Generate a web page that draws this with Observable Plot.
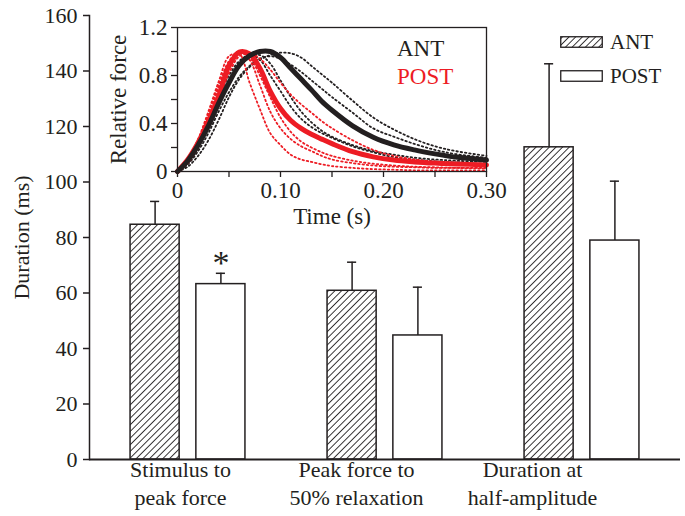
<!DOCTYPE html>
<html>
<head>
<meta charset="utf-8">
<script src="https://cdn.jsdelivr.net/npm/d3@7"></script>
<script src="https://cdn.jsdelivr.net/npm/@observablehq/plot@0.6"></script>
<style>
  html, body { margin: 0; padding: 0; background: #ffffff; }
  #wrap { position: relative; width: 685px; height: 516px; overflow: hidden; font-family: "Liberation Serif", "Times New Roman", serif; color: #231f20; }
  #wrap > div { position: absolute; }
  .leg { display: flex; align-items: center; font-size: 21px; line-height: 1; height: 24px; }
  .leg svg { margin-right: 7px; }
</style>
</head>
<body>
<div id="wrap">
  <div id="main" style="left:0;top:0;"></div>
  <div id="cats" style="left:0;top:457px;"></div>
  <div id="inset" style="left:100px;top:10px;"></div>
  <div id="legend" style="left:560px;top:30px;"></div>
  <div id="insetLegend" style="left:397px;top:35px;font-size:23px;line-height:28px;"></div>
</div>
<script>
// ---------------- main bar chart data ----------------
const groups = ["Stimulus to\npeak force", "Peak force to\n50% relaxation", "Duration at\nhalf-amplitude"];
const conditions = ["ANT", "POST"];
const antMean = [84.6, 60.8, 112.5];
const antSD = [8.4, 10.3, 30.1];
const postMean = [63.2, 44.7, 78.9];
const postSD = [3.9, 17.4, 21.4];
const postSignificant = [true, false, false];
const yTicks = [0, 20, 40, 60, 80, 100, 120, 140, 160];

// ---------------- inset data ----------------
const timeS = [0, 0.01, 0.02, 0.03, 0.04, 0.05, 0.06, 0.07, 0.08, 0.09, 0.10, 0.11, 0.12, 0.13, 0.14, 0.15, 0.17, 0.19, 0.21, 0.23, 0.25, 0.27, 0.30];
const antMeanForce  = [0.0, 0.09, 0.22, 0.38, 0.57, 0.74, 0.885, 0.965, 1.0, 1.0, 0.95, 0.86, 0.77, 0.68, 0.585, 0.51, 0.38, 0.285, 0.222, 0.18, 0.147, 0.12, 0.095];
const postMeanForce = [0.0, 0.10, 0.24, 0.42, 0.63, 0.88, 0.995, 0.98, 0.86, 0.67, 0.525, 0.425, 0.36, 0.31, 0.27, 0.232, 0.165, 0.122, 0.095, 0.08, 0.07, 0.063, 0.055];
const antTrial1 = [0, 0.04, 0.13, 0.26, 0.43, 0.62, 0.77, 0.87, 0.93, 0.97, 0.99, 0.985, 0.95, 0.88, 0.81, 0.74, 0.59, 0.45, 0.35, 0.27, 0.21, 0.17, 0.13];
const antTrial2 = [0, 0.06, 0.17, 0.32, 0.50, 0.66, 0.79, 0.88, 0.94, 0.96, 0.94, 0.89, 0.83, 0.76, 0.69, 0.62, 0.49, 0.36, 0.29, 0.23, 0.18, 0.145, 0.115];
const antTrial3 = [0, 0.08, 0.22, 0.42, 0.62, 0.80, 0.92, 0.97, 0.93, 0.80, 0.67, 0.54, 0.44, 0.37, 0.32, 0.28, 0.21, 0.16, 0.12, 0.10, 0.085, 0.075, 0.06];
const antTrial4 = [0, 0.07, 0.20, 0.37, 0.56, 0.73, 0.87, 0.95, 0.97, 0.90, 0.76, 0.62, 0.50, 0.41, 0.34, 0.29, 0.22, 0.17, 0.14, 0.115, 0.10, 0.09, 0.08];
const postTrial1 = [0, 0.10, 0.27, 0.50, 0.75, 0.96, 0.98, 0.74, 0.52, 0.32, 0.22, 0.14, 0.10, 0.08, 0.06, 0.045, 0.03, 0.02, 0.015, 0.01, 0.01, 0.01, 0.01];
const postTrial2 = [0, 0.09, 0.25, 0.46, 0.70, 0.90, 0.99, 0.95, 0.80, 0.62, 0.45, 0.33, 0.25, 0.20, 0.16, 0.13, 0.09, 0.065, 0.05, 0.04, 0.035, 0.03, 0.03];
const postTrial3 = [0, 0.07, 0.20, 0.38, 0.60, 0.82, 0.96, 0.99, 0.94, 0.85, 0.74, 0.64, 0.56, 0.49, 0.42, 0.36, 0.26, 0.18, 0.13, 0.10, 0.08, 0.07, 0.06];
const postTrial4 = [0, 0.10, 0.26, 0.48, 0.72, 0.92, 1.00, 0.93, 0.72, 0.50, 0.36, 0.27, 0.21, 0.17, 0.13, 0.10, 0.07, 0.05, 0.04, 0.035, 0.03, 0.03, 0.025];
const insetXTicks = [0, 0.05, 0.10, 0.15, 0.20, 0.25, 0.30];
const insetXLabels = [0, 0.10, 0.20, 0.30];
const insetYTicks = [0, 0.2, 0.4, 0.6, 0.8, 1.0, 1.2];
const insetYLabels = [0, 0.4, 0.8, 1.2];

const INK = "#231f20";
const RED = "#ed1c24";
const FONT = "'Liberation Serif', 'Times New Roman', serif";

// ---------------- build rows ----------------
const rows = [];
groups.forEach((g, i) => {
  rows.push({group: g, cond: "ANT", mean: antMean[i], top: antMean[i] + antSD[i], sig: false});
  rows.push({group: g, cond: "POST", mean: postMean[i], top: postMean[i] + postSD[i], sig: postSignificant[i]});
});
const antRows = rows.filter(d => d.cond === "ANT");
const postRows = rows.filter(d => d.cond === "POST");

const main = Plot.plot({
  width: 685,
  height: 516,
  marginLeft: 89,
  marginRight: 5,
  marginTop: 15,
  marginBottom: 57,
  style: {fontFamily: FONT, fontSize: "22px", color: INK, background: "transparent", overflow: "visible"},
  fx: {domain: groups, padding: 0, round: false, axis: null},
  x: {domain: conditions, paddingInner: 0.254, paddingOuter: 0.624, round: false, axis: null},
  y: {domain: [0, 160]},
  marks: [
    Plot.barY(antRows, {fx: "group", x: "cond", y: "mean", fill: "url(#hatch)", stroke: INK, strokeWidth: 1.5}),
    Plot.barY(postRows, {fx: "group", x: "cond", y: "mean", fill: "white", stroke: INK, strokeWidth: 1.5}),
    Plot.ruleX(rows, {fx: "group", x: "cond", y1: "mean", y2: "top", stroke: INK, strokeWidth: 1.5}),
    Plot.tickY(rows, {fx: "group", x: "cond", y: "top", stroke: INK, strokeWidth: 1.5, insetLeft: 20, insetRight: 20}),
    Plot.text(postRows.filter(d => d.sig), {fx: "group", x: "cond", y: "top", text: () => "*", fontSize: 34, dy: -10, lineAnchor: "middle", fill: INK}),
    Plot.ruleY([0], {stroke: INK, strokeWidth: 2}),
    Plot.frame({anchor: "left", facetAnchor: "left", stroke: INK, strokeWidth: 1.5}),
    Plot.axisY({ticks: yTicks, tickSize: 6, tickPadding: 6, tickFormat: d => String(d), stroke: INK, strokeWidth: 1.5,
      label: "Duration (ms)", labelAnchor: "center", labelOffset: 76, labelArrow: "none", fontSize: 22})
  ]
});

// hatch pattern
d3.select(main).insert("defs", ":first-child").html(
  `<pattern id="hatch" patternUnits="userSpaceOnUse" width="4.7" height="4.7" patternTransform="rotate(45)">
     <rect width="4.7" height="4.7" fill="white"></rect>
     <line x1="2.35" y1="0" x2="2.35" y2="4.7" stroke="${INK}" stroke-width="0.9"></line>
   </pattern>`
);
document.getElementById("main").appendChild(main);

// ---------------- category labels ----------------
const cats = Plot.plot({
  width: 685,
  height: 58,
  marginLeft: 92,
  marginRight: 65,
  marginTop: 0,
  marginBottom: 0,
  style: {fontFamily: FONT, fontSize: "22px", color: INK, background: "transparent", overflow: "visible"},
  x: {type: "band", domain: groups, padding: 0, axis: null},
  marks: [
    Plot.text(groups, {x: d => d, text: d => d, frameAnchor: "top", lineAnchor: "top", lineHeight: 1.25, fill: INK, fontSize: 22})
  ]
});
document.getElementById("cats").appendChild(cats);

// ---------------- inset ----------------
const traces = [];
const addTrace = (id, cond, kind, values) => values.forEach((v, i) => traces.push({id, cond, kind, t: timeS[i], v}));
addTrace("a1", "ANT", "trial", antTrial1);
addTrace("a2", "ANT", "trial", antTrial2);
addTrace("a3", "ANT", "trial", antTrial3);
addTrace("a4", "ANT", "trial", antTrial4);
addTrace("p1", "POST", "trial", postTrial1);
addTrace("p2", "POST", "trial", postTrial2);
addTrace("p3", "POST", "trial", postTrial3);
addTrace("p4", "POST", "trial", postTrial4);
addTrace("am", "ANT", "mean", antMeanForce);
addTrace("pm", "POST", "mean", postMeanForce);

const fmtX = d => d === 0 ? "0" : d.toFixed(2);
const fmtY = d => d === 0 ? "0" : d.toFixed(1);

const inset = Plot.plot({
  width: 400,
  height: 215,
  marginLeft: 77,
  marginRight: 14,
  marginTop: 17,
  marginBottom: 54,
  style: {fontFamily: FONT, fontSize: "23px", color: INK, background: "transparent", overflow: "visible"},
  x: {domain: [0, 0.3]},
  y: {domain: [0, 1.2]},
  marks: [
    Plot.frame({fill: "white", stroke: "none"}),
    Plot.line(traces.filter(d => d.kind === "trial" && d.cond === "ANT"), {x: "t", y: "v", z: "id", stroke: INK, strokeWidth: 1.8, strokeDasharray: "1.5,2.8", curve: "catmull-rom"}),
    Plot.line(traces.filter(d => d.kind === "trial" && d.cond === "POST"), {x: "t", y: "v", z: "id", stroke: RED, strokeWidth: 1.8, strokeDasharray: "1.5,2.8", curve: "catmull-rom"}),
    Plot.line(traces.filter(d => d.id === "pm"), {x: "t", y: "v", stroke: RED, strokeWidth: 5, curve: "catmull-rom"}),
    Plot.line(traces.filter(d => d.id === "am"), {x: "t", y: "v", stroke: INK, strokeWidth: 5, curve: "catmull-rom"}),
    Plot.frame({stroke: INK, strokeWidth: 1.3}),
    Plot.axisX({ticks: insetXTicks, tickSize: 6, tickPadding: 4, tickFormat: d => insetXLabels.includes(d) ? fmtX(d) : "",
      stroke: INK, strokeWidth: 1.3, label: "Time (s)", labelAnchor: "center", labelOffset: 52, labelArrow: "none", fontSize: 23}),
    Plot.axisY({ticks: insetYTicks, tickSize: 6, tickPadding: 4, tickFormat: d => insetYLabels.includes(d) ? fmtY(d) : "",
      stroke: INK, strokeWidth: 1.3, label: "Relative force", labelAnchor: "center", labelOffset: 68, labelArrow: "none", fontSize: 23})
  ]
});
document.getElementById("inset").appendChild(inset);

// ---------------- legends ----------------
const legendColors = {ANT: INK, POST: RED};
const insetLegend = d3.select("#insetLegend");
conditions.forEach(c => insetLegend.append("div").style("color", legendColors[c]).text(c));

const legend = d3.select("#legend");
conditions.forEach((c, i) => {
  const row = legend.append("div").attr("class", "leg").style("margin-bottom", i === 0 ? "10px" : "0");
  row.append("svg").attr("width", 43).attr("height", 12)
    .append("rect").attr("x", 0.75).attr("y", 0.75).attr("width", 41.5).attr("height", 10.5)
    .attr("fill", c === "ANT" ? "url(#hatch)" : "white").attr("stroke", INK).attr("stroke-width", 1.3);
  row.append("span").text(c);
});
</script>
</body>
</html>
